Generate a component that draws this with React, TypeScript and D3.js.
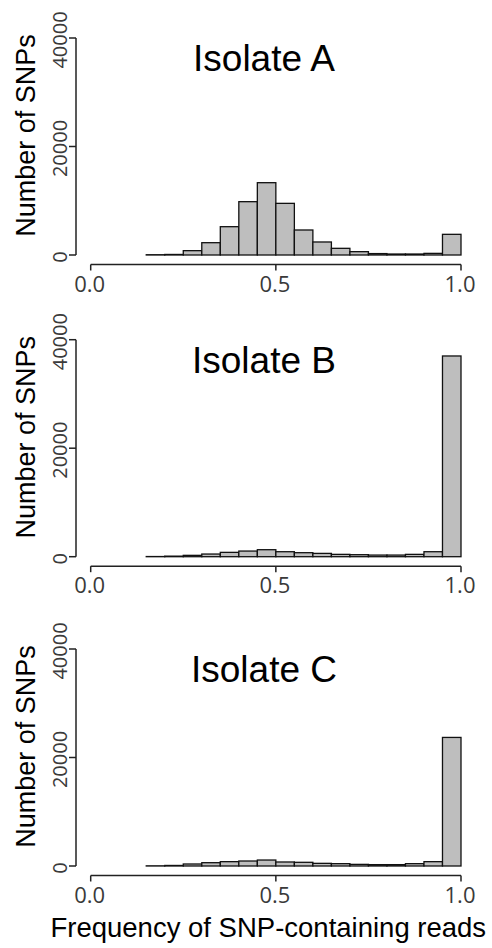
import React from "react";
import * as d3 from "d3";

// Histogram bins (left edges), width 0.05
const BIN_START = [0.15, 0.2, 0.25, 0.3, 0.35, 0.4, 0.45, 0.5, 0.55, 0.6, 0.65, 0.7, 0.75, 0.8, 0.85, 0.9, 0.95];
const BIN_WIDTH = 0.05;

const ISOLATE_A = [50, 100, 800, 2270, 5220, 9830, 13330, 9520, 4610, 2400, 1230, 615, 260, 180, 180, 300, 3810];
const ISOLATE_B = [30, 100, 250, 490, 800, 1040, 1290, 920, 740, 610, 430, 370, 300, 300, 430, 920, 37000];
const ISOLATE_C = [30, 100, 370, 610, 800, 920, 1100, 740, 680, 490, 430, 300, 250, 250, 430, 800, 23700];

const TITLES = ["Isolate A", "Isolate B", "Isolate C"];
const SERIES = [ISOLATE_A, ISOLATE_B, ISOLATE_C];

const Y_TICKS = [0, 20000, 40000];
const X_TICKS = [0, 0.5, 1.0];
const X_TICK_LABELS = ["0.0", "0.5", "1.0"];

const Y_LABEL = "Number of SNPs";
const X_LABEL = "Frequency of SNP-containing reads";

// layout
const W = 492;
const H = 948;
const ZEROS = [255, 556.7, 866];
const PLOT_H = 217;
const AXIS_X = 76;
const X_LEFT = 90.7;
const X_RIGHT = 461;
const AXIS_GAP = 9.5;

const SANS = "'Liberation Sans', Arial, Helvetica, sans-serif";
const TICK_FONT = "'Open Sans', 'Noto Sans', sans-serif";

function Panel({ title, values, zero }: { title: string; values: number[]; zero: number }) {
  const x = d3.scaleLinear().domain([0, 1]).range([X_LEFT, X_RIGHT]);
  const y = d3.scaleLinear().domain([0, 40000]).range([zero, zero - PLOT_H]);
  const axisY = zero + AXIS_GAP;
  return (
    <g>
      {/* bars */}
      {BIN_START.map((b, i) => {
        const x0 = x(b);
        const x1 = x(b + BIN_WIDTH);
        const y0 = y(values[i]);
        return (
          <rect
            key={i}
            x={x0}
            y={y0}
            width={x1 - x0}
            height={y(0) - y0}
            fill="#bebebe"
            stroke="#111"
            strokeWidth={1.3}
          />
        );
      })}
      {/* y axis */}
      <line x1={AXIS_X} x2={AXIS_X} y1={y(0)} y2={y(40000)} stroke="#222" strokeWidth={1.5} />
      {Y_TICKS.map((t) => (
        <g key={t}>
          <line x1={AXIS_X - 7} x2={AXIS_X} y1={y(t)} y2={y(t)} stroke="#222" strokeWidth={1.5} />
          <text
            transform={`translate(66.5,${y(t) + 2}) rotate(-90)`}
            textAnchor="middle"
            fontFamily={TICK_FONT}
            fontSize={20}
            fill="#3a3a3a"
          >
            {t}
          </text>
        </g>
      ))}
      {/* x axis */}
      <line x1={x(0)} x2={x(1)} y1={axisY} y2={axisY} stroke="#222" strokeWidth={1.5} />
      {X_TICKS.map((t, i) => (
        <g key={t}>
          <line x1={x(t)} x2={x(t)} y1={axisY} y2={axisY + 6} stroke="#222" strokeWidth={1.5} />
          <text
            x={x(t) - 1}
            y={axisY + 27}
            textAnchor="middle"
            fontFamily={TICK_FONT}
            fontSize={22}
            fill="#3a3a3a"
          >
            {X_TICK_LABELS[i]}
          </text>
        </g>
      ))}
      {/* y label */}
      <text
        transform={`translate(35,${zero - 119.5}) rotate(-90)`}
        textAnchor="middle"
        fontFamily={SANS}
        fontSize={27}
        fill="#000"
      >
        {Y_LABEL}
      </text>
      {/* title */}
      <text x={264} y={zero - PLOT_H + 33} textAnchor="middle" fontFamily={SANS} fontSize={37} fill="#000">
        {title}
      </text>
    </g>
  );
}

export default function App() {
  return (
    <svg
      width={W}
      height={H}
      viewBox={`0 0 ${W} ${H}`}
      style={{ position: "absolute", left: 0, top: 0, background: "#fff" }}
    >
      <rect x={0} y={0} width={W} height={H} fill="#fff" />
      {TITLES.map((t, i) => (
        <Panel key={t} title={t} values={SERIES[i]} zero={ZEROS[i]} />
      ))}
      <text x={268.3} y={937.3} textAnchor="middle" fontFamily={SANS} fontSize={27.5} fill="#000">
        {X_LABEL}
      </text>
    </svg>
  );
}
